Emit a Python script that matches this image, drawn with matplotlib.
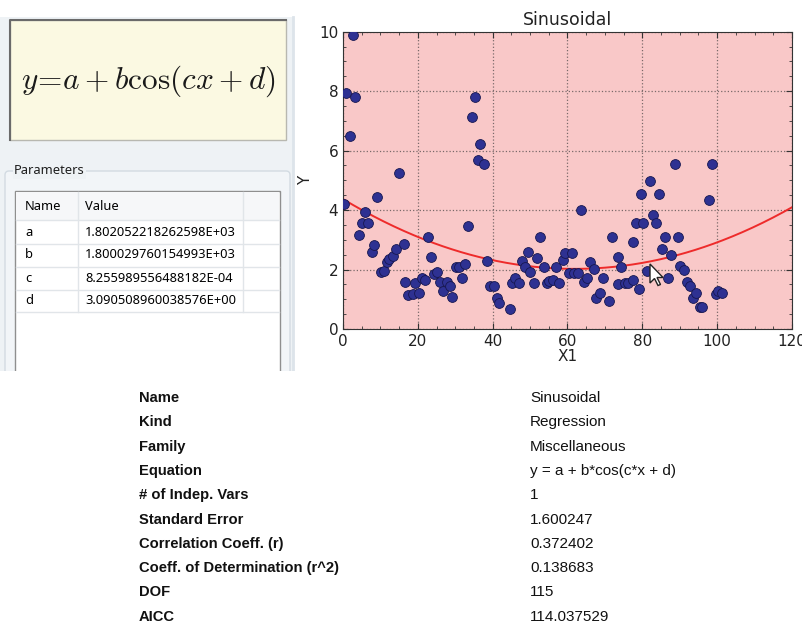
import numpy as np
import matplotlib
matplotlib.use("Agg")
import matplotlib.pyplot as plt
from matplotlib.patches import Rectangle, FancyBboxPatch, Polygon
from matplotlib.ticker import MultipleLocator

# fitted model y = a + b*cos(c*x + d)
param_names = ["a", "b", "c", "d"]
param_text = ["1.802052218262598E+03", "1.800029760154993E+03",
              "8.255989556488182E-04", "3.090508960038576E+00"]
a, b, c, d = [float(t) for t in param_text]

# observed points
x_obs = [0.3, 0.9, 1.9, 2.7, 3.3, 4.3, 5.1, 6.0, 6.8, 7.7,
         8.4, 9.1, 10.2, 10.9, 11.7, 12.4, 13.3, 14.2, 15.1, 16.2,
         16.7, 17.5, 18.7, 19.3, 20.3, 21.1, 21.9, 22.7, 23.4, 24.3,
         25.1, 26.0, 26.8, 27.7, 28.5, 29.2, 30.1, 30.9, 31.7, 32.7,
         33.5, 34.4, 35.2, 36.2, 36.7, 37.6, 38.5, 39.2,
         40.3, 41.1, 41.8, 44.5, 45.1, 46.0, 47.0, 47.8, 48.6, 49.4,
         50.1, 51.1, 51.9, 52.7, 53.6, 54.5, 55.1, 56.0, 56.9, 57.8,
         58.7, 59.4, 60.3, 61.1, 61.8, 62.9, 63.6, 64.3, 65.2, 66.1,
         67.0, 67.6, 68.7, 69.5, 71.2, 71.9, 73.6, 73.6, 74.4, 75.3,
         76.2, 77.4, 77.6, 78.4, 79.2, 79.6, 80.3, 81.2,
         82.0, 82.9, 83.7, 84.5, 85.3, 86.1, 86.9, 87.7, 88.6, 89.5,
         90.1, 91.2, 92.0, 92.7, 93.6, 94.4, 95.3, 96.0, 97.7, 98.6,
         99.6, 100.3, 101.3]
y_obs = [4.21, 7.93, 6.48, 9.88, 7.80, 3.16, 3.58, 3.92, 3.56, 2.58,
         2.83, 4.43, 1.93, 1.95, 2.27, 2.35, 2.46, 2.68, 5.24, 2.86,
         1.58, 1.14, 1.19, 1.56, 1.22, 1.71, 1.64, 3.09, 2.42, 1.84,
         1.93, 1.59, 1.27, 1.58, 1.43, 1.09, 2.10, 2.07, 1.71, 2.19,
         3.45, 7.12, 7.80, 5.69, 6.23, 5.54, 2.30, 1.46,
         1.43, 1.05, 0.86, 0.67, 1.54, 1.71, 1.54, 2.29, 2.10, 2.60,
         1.93, 1.54, 2.38, 3.08, 2.08, 1.54, 1.61, 1.65, 2.10, 1.54,
         2.32, 2.55, 1.90, 2.55, 1.90, 1.90, 4.01, 1.57, 1.71, 2.26,
         2.01, 1.05, 1.22, 1.71, 0.95, 3.11, 1.52, 2.41, 2.08, 1.56,
         1.54, 2.92, 1.65, 3.56, 1.34, 4.53, 3.56, 1.95,
         4.98, 3.84, 3.58, 4.53, 2.69, 3.11, 1.70, 2.48, 5.54, 3.11,
         2.12, 2.00, 1.57, 1.45, 1.05, 1.20, 0.75, 0.75, 4.33, 5.54,
         1.18, 1.28, 1.22]

summary_keys = ["Name", "Kind", "Family", "Equation", "# of Indep. Vars",
                "Standard Error", "Correlation Coeff. (r)",
                "Coeff. of Determination (r^2)", "DOF", "AICC"]
summary_vals = ["Sinusoidal", "Regression", "Miscellaneous",
                "y = a + b*cos(c*x + d)", "1", "1.600247", "0.372402",
                "0.138683", "115", "114.037529"]

W, H = 803, 624
fig = plt.figure(figsize=(W / 100, H / 100), dpi=100)

# background layer in pixel coordinates
bg = fig.add_axes([0, 0, 1, 1])
bg.set_xlim(0, W)
bg.set_ylim(H, 0)
bg.axis("off")

panel_col = "#eef2f5"
bg.add_patch(Rectangle((0, 17), 294, 356, fc=panel_col, ec="none"))
bg.plot([293, 293], [17, 371], color="#dde4ea", lw=2)

# equation box
bg.add_patch(Rectangle((10, 20), 276, 120, fc="#fbf9e2", ec="#b8b8b0", lw=1))
bg.plot([10, 10, 286], [140, 20, 20], color="#6a6a6a", lw=1.5)
bg.text(148, 81, r"$y\!=\!a+b\cos(cx+d)$", fontsize=22.5, ha="center",
        va="center", math_fontfamily="cm", color="#1a1a1a")

# parameters group box and table (bottom cut by the panel edge)
bg.add_patch(FancyBboxPatch((5, 171), 285, 230,
                            boxstyle="round,pad=0,rounding_size=4",
                            fc="#f2f5f8", ec="#d3dbe2", lw=1))
bg.text(14, 171, "Parameters", fontsize=9.3, family="Noto Sans",
        ha="left", va="center", color="#1e1e1e",
        bbox=dict(fc=panel_col, ec="none", pad=1))
bg.add_patch(Rectangle((15, 191), 265, 220, fc="white", ec="#8f8f8f", lw=1))
bg.add_patch(Rectangle((16, 192), 263, 28, fc="#f6f7f9", ec="none"))
for yl in [220, 244, 267, 290, 312]:
    bg.plot([16, 279], [yl, yl], color="#e1e5e9", lw=1)
for xl in [78, 243]:
    bg.plot([xl, xl], [192, 312], color="#e1e5e9", lw=1)
bg.text(25, 207, "Name", fontsize=9.3, family="Noto Sans", va="center")
bg.text(85, 207, "Value", fontsize=9.3, family="Noto Sans", va="center")
for i, (nm, val) in enumerate(zip(param_names, param_text)):
    yr = 232 + i * 23
    bg.text(25, yr, nm, fontsize=9.3, family="Noto Sans", va="center")
    bg.text(85, yr, val, fontsize=9.3, family="Noto Sans", va="center")
bg.add_patch(Rectangle((0, 371), 300, 60, fc="white", ec="none", zorder=5))

# summary table under the chart
for i, (k, v) in enumerate(zip(summary_keys, summary_vals)):
    yr = 398 + i * 24.3
    bg.text(139, yr, k, fontsize=10.6, family="Liberation Sans",
            weight="bold", va="center", color="#111111", zorder=6)
    bg.text(530, yr, v, fontsize=11, family="Liberation Sans",
            va="center", color="#111111", zorder=6)

# the regression chart
ax = fig.add_axes([343 / W, 1 - 329 / H, (792 - 343) / W, (329 - 31.7) / H])
ax.set_facecolor("#f9c8c8")
xx = np.linspace(0, 120, 400)
yy = a + b * np.cos(c * xx + d)
ax.plot(xx, yy, color="#ee2b2b", lw=1.4, zorder=2)
ax.scatter(x_obs, y_obs, s=50, c="#2e3192", edgecolors="#17174f",
           linewidths=0.6, zorder=3)

ax.set_xlim(0, 120)
ax.set_ylim(0, 10)
ax.xaxis.set_major_locator(MultipleLocator(20))
ax.xaxis.set_minor_locator(MultipleLocator(5))
ax.yaxis.set_major_locator(MultipleLocator(2))
ax.yaxis.set_minor_locator(MultipleLocator(0.5))
ax.tick_params(which="both", direction="in", top=True, right=True,
               colors="#333333", labelcolor="#222222", labelsize=11)
ax.tick_params(which="major", length=4)
ax.tick_params(which="minor", length=2)
ax.grid(True, which="major", linestyle=":", color="#7a6a6a", lw=0.9)
for sp in ax.spines.values():
    sp.set_color("#333333")
ax.set_title("Sinusoidal", fontsize=12.5, color="#222222", pad=5)
ax.set_xlabel("X1", fontsize=11, color="#222222", labelpad=0)
ax.set_ylabel("Y", fontsize=11, color="#222222")

# mouse pointer on top
top = fig.add_axes([0, 0, 1, 1])
top.set_xlim(0, W)
top.set_ylim(H, 0)
top.axis("off")
tip_x, tip_y = 650, 264
arrow = np.array([[0, 0], [0, 19], [4.5, 14.5], [8, 21.5], [10.5, 20.5],
                  [7, 13.5], [13, 13.5]])
top.add_patch(Polygon(arrow + [tip_x, tip_y], closed=True, fc="white",
                      ec="#222222", lw=1, zorder=10))

fig.savefig("out.png", dpi=100)
